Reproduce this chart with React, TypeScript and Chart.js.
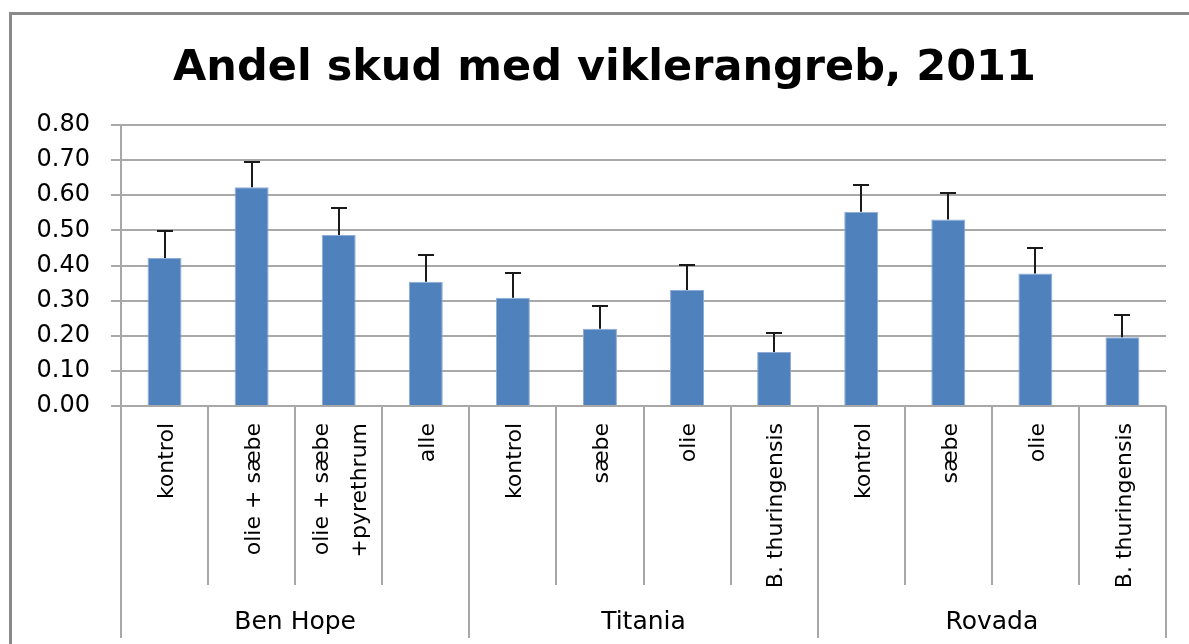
import React, { useEffect, useRef } from "react";
import { Chart, registerables } from "chart.js";

Chart.register(...registerables);

const categories: string[][] = [
  ["kontrol"],
  ["olie + sæbe"],
  ["olie + sæbe", "+pyrethrum"],
  ["alle"],
  ["kontrol"],
  ["sæbe"],
  ["olie"],
  ["B. thuringensis"],
  ["kontrol"],
  ["sæbe"],
  ["olie"],
  ["B. thuringensis"],
];
const groups = ["Ben Hope", "Titania", "Rovada"];
const groupSizes = [4, 4, 4];
const values = [0.421, 0.623, 0.487, 0.354, 0.308, 0.22, 0.33, 0.154, 0.553, 0.531, 0.377, 0.196];
const errors = [0.077, 0.072, 0.076, 0.075, 0.072, 0.065, 0.072, 0.054, 0.076, 0.076, 0.073, 0.063];
const yMin = 0;
const yMax = 0.8;
const yStep = 0.1;
const title = "Andel skud med viklerangreb, 2011";

const GRID = "#a8a8a8";
const FONT = "'DejaVu Sans', sans-serif";

const errorBarsPlugin = {
  id: "errorBars",
  afterDatasetsDraw(chart: any) {
    const { ctx } = chart;
    const y = chart.scales.y;
    const meta = chart.getDatasetMeta(0);
    ctx.save();
    ctx.strokeStyle = "#1a1a1a";
    ctx.lineWidth = 2;
    meta.data.forEach((bar: any, i: number) => {
      const x = Math.round(bar.x);
      const y0 = y.getPixelForValue(values[i]);
      const y1 = Math.round(y.getPixelForValue(values[i] + errors[i]));
      ctx.beginPath();
      ctx.moveTo(x, y0);
      ctx.lineTo(x, y1);
      ctx.moveTo(x - 8, y1);
      ctx.lineTo(x + 8, y1);
      ctx.stroke();
    });
    ctx.restore();
  },
};

const xAxisPlugin = {
  id: "groupedXAxis",
  afterDraw(chart: any) {
    const { ctx, chartArea } = chart;
    const xs = chart.scales.x;
    const n = categories.length;
    const cw = xs.getPixelForValue(1) - xs.getPixelForValue(0);
    const bottom = chartArea.bottom;
    const groupEdges: number[] = [0];
    groupSizes.forEach((s) => groupEdges.push(groupEdges[groupEdges.length - 1] + s));

    ctx.save();
    // title
    ctx.fillStyle = "#000";
    ctx.font = `bold 43px ${FONT}`;
    ctx.textAlign = "center";
    ctx.textBaseline = "alphabetic";
    ctx.fillText(title, chart.width / 2 + 10, 80);

    // separators
    ctx.strokeStyle = GRID;
    ctx.lineWidth = 2;
    for (let i = 0; i <= n; i++) {
      const bx = Math.round(i < n ? xs.getPixelForValue(i) - cw / 2 : xs.getPixelForValue(n - 1) + cw / 2);
      const isGroup = groupEdges.includes(i);
      ctx.beginPath();
      ctx.moveTo(bx, bottom);
      ctx.lineTo(bx, isGroup ? bottom + 232 : bottom + 179);
      ctx.stroke();
    }

    // category labels (rotated)
    const fs = 22;
    ctx.font = `${fs}px ${FONT}`;
    ctx.textAlign = "right";
    const lineGap = 38;
    categories.forEach((lines, i) => {
      const cx = xs.getPixelForValue(i);
      const k = lines.length;
      lines.forEach((line, j) => {
        const baseX = cx + 0.38 * fs + (j - (k - 1) / 2) * lineGap;
        ctx.save();
        ctx.translate(baseX, bottom + 17);
        ctx.rotate(-Math.PI / 2);
        ctx.fillText(line, 0, 0);
        ctx.restore();
      });
    });

    // group labels
    ctx.font = `25px ${FONT}`;
    ctx.textAlign = "center";
    groups.forEach((g, gi) => {
      const a = xs.getPixelForValue(groupEdges[gi]) - cw / 2;
      const b = xs.getPixelForValue(groupEdges[gi + 1] - 1) + cw / 2;
      ctx.fillText(g, (a + b) / 2, bottom + 223);
    });

    // outer frame
    ctx.strokeStyle = "#8a8a8a";
    ctx.lineWidth = 3;
    ctx.beginPath();
    ctx.moveTo(10.5, chart.height);
    ctx.lineTo(10.5, 13.5);
    ctx.lineTo(chart.width, 13.5);
    ctx.stroke();
    ctx.restore();
  },
};

export default function App() {
  const ref = useRef<HTMLCanvasElement | null>(null);
  useEffect(() => {
    document.body.style.margin = "0";
    if (!ref.current) return;
    const chart = new Chart(ref.current, {
      type: "bar",
      data: {
        labels: categories,
        datasets: [
          {
            data: values,
            backgroundColor: "#4f81bd",
            borderColor: "#8fabd6",
            borderWidth: 1,
            barPercentage: 0.39,
            categoryPercentage: 1,
          },
        ],
      },
      options: {
        animation: false,
        responsive: false,
        maintainAspectRatio: false,
        layout: { padding: { left: 0, right: 23, top: 125, bottom: 238 } },
        plugins: {
          legend: { display: false },
          tooltip: { enabled: false },
          title: { display: false },
        },
        scales: {
          x: {
            display: false,
          },
          y: {
            min: yMin,
            max: yMax,
            afterFit: (scale: any) => {
              scale.width = 121;
            },
            ticks: {
              stepSize: yStep,
              padding: 21,
              color: "#000",
              font: { family: FONT, size: 24 },
              callback: (v: any) => Number(v).toFixed(2),
            },
            grid: { color: GRID, lineWidth: 2, tickLength: 10 },
            border: { color: GRID, width: 2 },
          },
        },
      },
      plugins: [errorBarsPlugin, xAxisPlugin],
    });
    return () => chart.destroy();
  }, []);
  return (
    <div style={{ width: 1189, height: 644, overflow: "hidden" }}>
      <canvas ref={ref} width={1189} height={644} style={{ display: "block" }} />
    </div>
  );
}
